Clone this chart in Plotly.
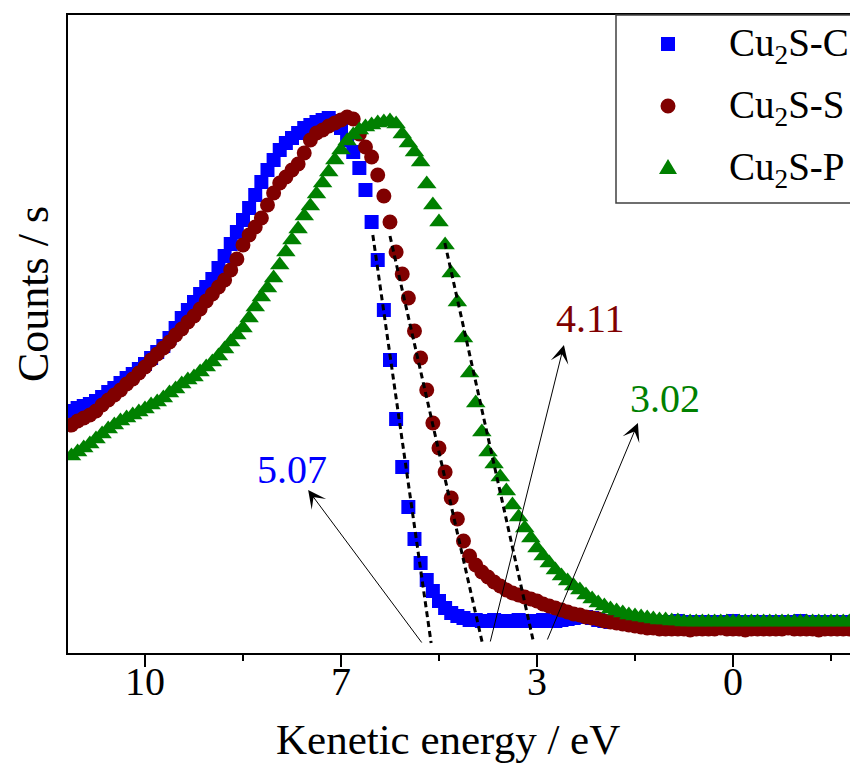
import plotly.graph_objects as go

# ---------------- data ----------------
energy = [12.5, 12.375, 12.25, 12.125, 12.0, 11.875, 11.75, 11.625, 11.5, 11.375,
          11.25, 11.125, 11.0, 10.875, 10.75, 10.625, 10.5, 10.375, 10.25, 10.125,
          10.0, 9.875, 9.75, 9.625, 9.5, 9.375, 9.25, 9.125, 9.0, 8.875,
          8.75, 8.625, 8.5, 8.375, 8.25, 8.125, 8.0, 7.875, 7.75, 7.625,
          7.5, 7.375, 7.25, 7.125, 7.0, 6.875, 6.75, 6.625, 6.5, 6.375,
          6.25, 6.125, 6.0, 5.875, 5.75, 5.625, 5.5, 5.375, 5.25, 5.125,
          5.0, 4.875, 4.75, 4.625, 4.5, 4.375, 4.25, 4.125, 4.0, 3.875,
          3.75, 3.625, 3.5, 3.375, 3.25, 3.125, 3.0, 2.875, 2.75, 2.625,
          2.5, 2.375, 2.25, 2.125, 2.0, 1.875, 1.75, 1.625, 1.5, 1.375,
          1.25, 1.125, 1.0, 0.875, 0.75, 0.625, 0.5, 0.375, 0.25, 0.125,
          0.0, -0.125, -0.25, -0.375, -0.5, -0.625, -0.75, -0.875, -1.0, -1.125,
          -1.25, -1.375, -1.5, -1.625, -1.75, -1.875, -2.0, -2.125, -2.25, -2.375,
          -2.5, -2.625, -2.75, -2.875, -3.0, -3.125, -3.25, -3.375, -3.5]

cu2s_c = [242, 245, 247, 249, 252, 256, 261, 265, 270, 275,
          279, 284, 289, 295, 301, 307, 315, 325, 335, 343,
          351, 359, 366, 374, 385, 397, 409, 421, 433, 445,
          458, 471, 483, 493, 503, 510, 515, 520, 525, 528,
          531, 533, 535, 532, 525, 513, 501, 485, 463, 431,
          393, 343, 293, 234, 186, 146, 114, 90, 73, 62,
          52, 45, 40, 37, 35, 33, 33, 32, 32, 33,
          32, 32, 32, 33, 32, 32, 32, 33, 32, 32,
          33, 34, 35, 36, 36, 35, 33, 32, 31, 31,
          31, 32, 31, 31, 31, 30, 31, 31, 31, 32,
          31, 31, 31, 31, 30, 31, 31, 31, 32, 31,
          31, 31, 31, 31, 30, 31, 31, 31, 31, 32,
          31, 31, 31, 31, 31, 30, 31, 31, 31]

cu2s_s = [228, 232, 235, 238, 242, 248, 253, 258, 263, 269,
          274, 280, 286, 293, 299, 305, 311, 318, 324, 331,
          337, 344, 352, 359, 366, 373, 383, 394, 408, 418,
          426, 435, 448, 460, 470, 476, 483, 489, 500, 513,
          520, 523, 527, 530, 533, 536, 534, 519, 506, 496,
          478, 457, 431, 401, 379, 355, 322, 295, 263, 230,
          205, 181, 155, 134, 112, 97, 88, 81, 76, 71,
          67, 63, 60, 58, 56, 54, 52, 49, 47, 45,
          43, 41, 39, 38, 36, 35, 34, 32, 31, 30,
          29, 28, 27, 26, 25, 25, 24, 24, 24, 24,
          24, 23, 24, 24, 24, 24, 25, 24, 24, 24,
          23, 24, 24, 24, 24, 24, 24, 25, 24, 24,
          24, 24, 23, 24, 24, 24, 24, 24, 24]

cu2s_p = [197, 201, 205, 209, 214, 219, 224, 228, 232, 235,
          238, 241, 244, 248, 251, 255, 260, 264, 269, 273,
          276, 281, 286, 291, 297, 304, 311, 318, 325, 335,
          346, 356, 365, 375, 388, 401, 413, 424, 437, 447,
          459, 470, 481, 493, 503, 512, 518, 523, 526, 528,
          530, 531, 532, 529, 519, 510, 501, 491, 469, 448,
          431, 408, 380, 351, 315, 280, 250, 221, 201, 189,
          176, 162, 148, 136, 125, 115, 105, 97, 90, 83,
          77, 72, 67, 63, 58, 54, 50, 47, 44, 42,
          40, 38, 37, 36, 35, 34, 33, 33, 32, 32,
          31, 31, 31, 31, 31, 31, 31, 31, 31, 31,
          31, 31, 31, 31, 31, 31, 31, 31, 31, 31,
          31, 31, 31, 31, 31, 31, 31, 31, 31]

series_names = ["Cu<sub>2</sub>S-C", "Cu<sub>2</sub>S-S", "Cu<sub>2</sub>S-P"]
series_values = [cu2s_c, cu2s_s, cu2s_p]
series_colors = ["#0000FF", "#800000", "#008000"]
series_symbols = ["square", "circle", "triangle-up"]
series_sizes = [14, 15, 17]

# linear fits of the leading edge (start / end points on the energy axis)
fit_x = [[6.35, 5.16], [6.00, 4.12], [4.88, 3.08]]
fit_y = [[418, 10], [417, 11], [410, 13]]

# onset labels and their arrows
onset_labels = ["5.07", "4.11", "3.02"]
label_x = [8.0, 1.9, 0.39]
label_y = [184, 335, 255]
arrow_tip_x = [7.67, 2.45, 0.94]
arrow_tip_y = [163, 308, 230]
arrow_tail_x = [5.33, 3.96, 2.80]
arrow_tail_y = [9, 10, 12]

tick_vals = [11, 7, 3, -1]
tick_text = ["10", "7", "3", "0"]
minor_tick_vals = [9, 5, 1, -3]

FONT = "Liberation Serif, Times New Roman, serif"

# ---------------- figure ----------------
W, H = 850, 765
ML, MR, MT, MB = 68, 0, 15, 112
PW, PH = W - ML - MR, H - MT - MB


def px2paper_x(px):
    return (px - ML) / PW


def px2paper_y(py):
    return (H - MB - py) / PH


fig = go.Figure()

for name, vals, col, sym, sz in zip(series_names, series_values, series_colors,
                                     series_symbols, series_sizes):
    fig.add_trace(go.Scatter(
        x=energy, y=vals, mode="markers", name=name, showlegend=False,
        marker=dict(symbol=sym, size=sz, color=col, line=dict(width=0)),
    ))

for fx, fy in zip(fit_x, fit_y):
    fig.add_trace(go.Scatter(
        x=fx, y=fy, mode="lines", showlegend=False, hoverinfo="skip",
        line=dict(color="black", width=3, dash="6px,4px"),
    ))

annotations = []
for txt, lx, ly, col in zip(onset_labels, label_x, label_y, series_colors):
    annotations.append(dict(
        x=lx, y=ly, xref="x", yref="y", text=txt, showarrow=False,
        font=dict(family=FONT, size=40, color=col),
        xanchor="center", yanchor="middle",
    ))
for tx, ty, sx, sy in zip(arrow_tip_x, arrow_tip_y, arrow_tail_x, arrow_tail_y):
    annotations.append(dict(
        x=tx, y=ty, xref="x", yref="y", ax=sx, ay=sy, axref="x", ayref="y",
        text="", showarrow=True, arrowhead=3, arrowsize=3, arrowwidth=1,
        arrowcolor="black", standoff=0, startstandoff=0,
    ))

# axis titles
annotations.append(dict(
    x=px2paper_x(448), y=px2paper_y(739), xref="paper", yref="paper",
    text="Kenetic energy / eV", showarrow=False,
    font=dict(family=FONT, size=43, color="black"),
    xanchor="center", yanchor="middle",
))
annotations.append(dict(
    x=px2paper_x(33), y=px2paper_y(294), xref="paper", yref="paper",
    text="Counts / s", showarrow=False, textangle=-90,
    font=dict(family=FONT, size=44, color="black"),
    xanchor="center", yanchor="middle",
))

# legend (drawn by hand, box runs off the right edge like the reference)
shapes = [dict(
    type="rect", xref="paper", yref="paper",
    x0=px2paper_x(616), x1=px2paper_x(1000), y0=px2paper_y(203), y1=px2paper_y(15),
    line=dict(color="#404040", width=1.5), fillcolor="rgba(0,0,0,0)", layer="above",
)]
leg_cx = 668
leg_rows = [44, 106, 167]
# square
shapes.append(dict(type="rect", xref="paper", yref="paper",
                   x0=px2paper_x(leg_cx - 7), x1=px2paper_x(leg_cx + 7),
                   y0=px2paper_y(leg_rows[0] + 7), y1=px2paper_y(leg_rows[0] - 7),
                   fillcolor=series_colors[0], line=dict(width=0)))
# circle
shapes.append(dict(type="circle", xref="paper", yref="paper",
                   x0=px2paper_x(leg_cx - 7.5), x1=px2paper_x(leg_cx + 7.5),
                   y0=px2paper_y(leg_rows[1] + 7.5), y1=px2paper_y(leg_rows[1] - 7.5),
                   fillcolor=series_colors[1], line=dict(width=0)))
# triangle
tri = [(leg_cx, leg_rows[2] - 8), (leg_cx + 9, leg_rows[2] + 7), (leg_cx - 9, leg_rows[2] + 7)]
path = "M {} {} L {} {} L {} {} Z".format(*[v for p in tri for v in (px2paper_x(p[0]), px2paper_y(p[1]))])
shapes.append(dict(type="path", xref="paper", yref="paper", path=path,
                   fillcolor=series_colors[2], line=dict(width=0)))

for name, row in zip(series_names, [46, 107.5, 169]):
    annotations.append(dict(
        x=px2paper_x(727), y=px2paper_y(row), xref="paper", yref="paper",
        text=name, showarrow=False, font=dict(family=FONT, size=39, color="black"),
        xanchor="left", yanchor="middle",
    ))

fig.update_layout(
    width=W, height=H,
    margin=dict(l=ML, r=MR, t=MT, b=MB, pad=0),
    paper_bgcolor="white", plot_bgcolor="white",
    showlegend=False,
    annotations=annotations, shapes=shapes,
    font=dict(family=FONT, color="black"),
    xaxis=dict(
        range=[12.571, -3.388], showline=True, linewidth=2, linecolor="black",
        mirror=True, ticks="outside", ticklen=12, tickwidth=2, tickcolor="black",
        tickvals=tick_vals, ticktext=tick_text, ticklabelstandoff=-20,
        tickfont=dict(family=FONT, size=40, color="black"),
        showgrid=False, zeroline=False,
        minor=dict(tickvals=minor_tick_vals, ticks="outside", ticklen=6,
                   tickwidth=2, tickcolor="black", showgrid=False),
    ),
    yaxis=dict(
        range=[0, 638], showline=True, linewidth=2, linecolor="black",
        ticks="", showticklabels=False, showgrid=False, zeroline=False,
    ),
)

fig.write_html("out.html")
